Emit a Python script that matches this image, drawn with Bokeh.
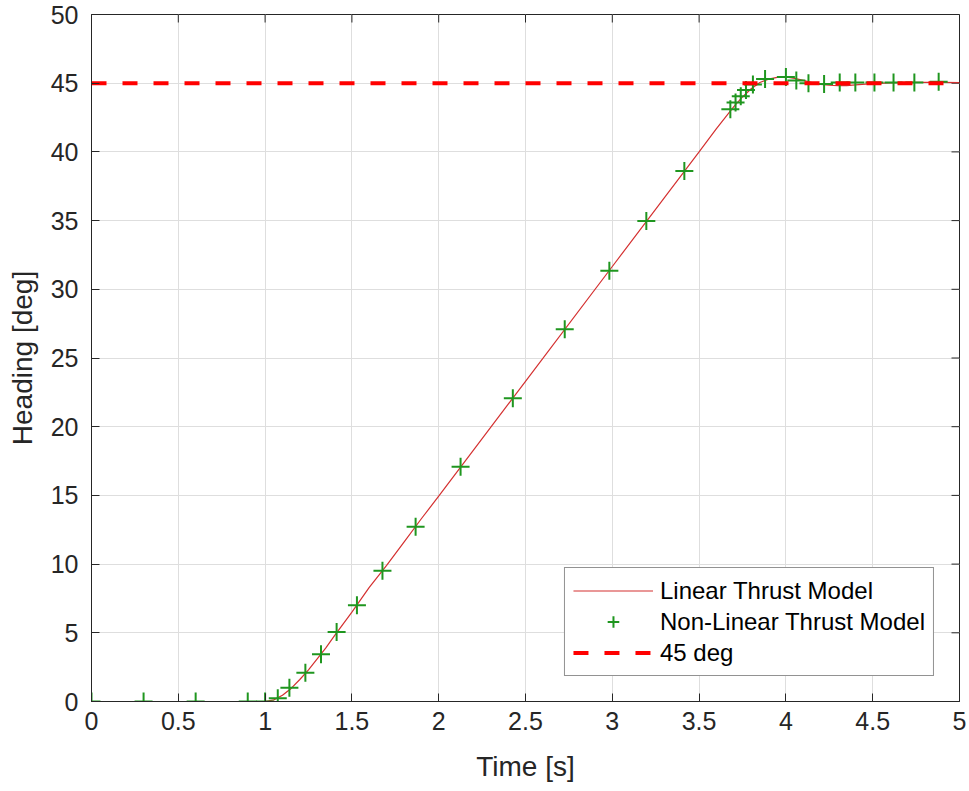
from bokeh.plotting import figure
from bokeh.models import Range1d, FixedTicker, NumeralTickFormatter, Legend, LegendItem
from bokeh.embed import file_html
from bokeh.resources import INLINE

# Linear Thrust Model (continuous line)
lin_t = [0.0, 1.0, 1.05, 1.1, 1.15, 1.2, 1.25, 1.3, 1.35, 1.4, 1.5, 1.6, 1.7, 1.8, 1.9,
         2.0, 2.5, 3.0, 3.5, 3.6, 3.7, 3.75, 3.8, 3.85, 3.9, 3.95, 4.0, 4.05, 4.1, 4.15,
         4.2, 4.25, 4.3, 4.35, 4.4, 4.5, 4.6, 4.7, 4.8, 4.9, 5.0]
lin_h = [0.0, 0.0, 0.12, 0.45, 0.95, 1.6, 2.3, 3.1, 3.9, 4.8, 6.5, 8.3, 9.9, 11.6, 13.3,
         14.94, 23.3, 31.66, 40.0, 41.7, 43.3, 44.0, 44.6, 45.05, 45.3, 45.43, 45.45, 45.35, 45.2, 45.05,
         44.92, 44.85, 44.82, 44.83, 44.88, 44.97, 45.03, 45.06, 45.07, 45.06, 45.04]

# Non-Linear Thrust Model (markers)
nl_t = [0.0, 0.30, 0.60, 0.90, 1.0, 1.073, 1.14, 1.232, 1.322, 1.412, 1.529, 1.676, 1.867,
        2.126, 2.427, 2.726, 2.983, 3.196, 3.415, 3.68, 3.71, 3.74, 3.77, 3.81, 3.88, 4.0,
        4.06, 4.13, 4.22, 4.31, 4.40, 4.51, 4.62, 4.74, 4.88]
nl_h = [0.0, 0.0, 0.0, 0.0, 0.0, 0.24, 1.0, 2.09, 3.43, 5.05, 7.0, 9.52, 12.72,
        17.09, 22.07, 27.09, 31.35, 34.97, 38.61, 43.1, 43.6, 44.05, 44.5, 44.9, 45.3, 45.45,
        45.2, 45.0, 44.95, 45.05, 45.05, 45.05, 45.05, 45.05, 45.1]

# 45 deg reference
ref_t = [0.0, 5.0]
ref_h = [45.0, 45.0]

x_ticks = [0, 0.5, 1, 1.5, 2, 2.5, 3, 3.5, 4, 4.5, 5]
y_ticks = [0, 5, 10, 15, 20, 25, 30, 35, 40, 45, 50]
x_min, x_max = 0, 5
y_min, y_max = 0, 50

FONT = "Liberation Sans"
AX = "#262626"

p = figure(width=969, height=791, output_backend="svg", toolbar_location=None,
           x_range=Range1d(x_min, x_max), y_range=Range1d(y_min, y_max),
           min_border_left=91, min_border_right=10, min_border_top=14, min_border_bottom=90,
           x_axis_label="Time [s]", y_axis_label="Heading [deg]")
p.outline_line_color = AX
p.outline_line_width = 1
p.background_fill_color = "white"
p.border_fill_color = "white"

for ax in (p.xaxis[0], p.yaxis[0]):
    ax.axis_line_color = AX
    ax.major_tick_line_color = AX
    ax.major_tick_in = 8
    ax.major_tick_out = 0
    ax.minor_tick_line_color = None
    ax.major_label_text_font = FONT
    ax.major_label_text_font_size = "25px"
    ax.major_label_text_color = AX
    ax.axis_label_text_font = FONT
    ax.axis_label_text_font_size = "28px"
    ax.axis_label_text_font_style = "normal"
    ax.axis_label_text_color = AX
    ax.formatter = NumeralTickFormatter(format="0.[0]")

p.xaxis[0].ticker = FixedTicker(ticks=x_ticks)
p.yaxis[0].ticker = FixedTicker(ticks=y_ticks)
p.xaxis[0].major_label_standoff = 10
p.xaxis[0].axis_label_standoff = 18
p.yaxis[0].major_label_standoff = 13
p.yaxis[0].axis_label_standoff = 10

p.xgrid.ticker = FixedTicker(ticks=x_ticks)
p.ygrid.ticker = FixedTicker(ticks=y_ticks)
p.xgrid.grid_line_color = "#dedede"
p.ygrid.grid_line_color = "#dedede"

# inward ticks on the top and right edges of the box
p.ray(x=x_ticks, y=[y_max] * len(x_ticks), length=8, length_units="screen",
      angle=-90, angle_units="deg", line_color=AX, line_width=1)
p.ray(x=[x_max] * len(y_ticks), y=y_ticks, length=8, length_units="screen",
      angle=180, angle_units="deg", line_color=AX, line_width=1)

r_lin = p.line(lin_t, lin_h, line_color="#d43030", line_width=1.2)
r_nl = p.scatter(nl_t, nl_h, marker="cross", size=18, line_color="#1f961f", line_width=2)
r_ref = p.line(ref_t, ref_h, line_color="#ff0000", line_width=4, line_dash="15 16")

legend = Legend(items=[LegendItem(label="Linear Thrust Model", renderers=[r_lin]),
                       LegendItem(label="Non-Linear Thrust Model", renderers=[r_nl]),
                       LegendItem(label="45 deg", renderers=[r_ref])],
                location="bottom_right", margin=25, padding=8, spacing=2,
                glyph_width=80, glyph_height=29, label_height=29, label_standoff=7,
                label_text_font=FONT, label_text_font_size="24px", label_text_color="black",
                border_line_color=AX, border_line_width=1, background_fill_color="white",
                background_fill_alpha=1.0)
p.add_layout(legend, "center")

open("out.html", "w").write(file_html(p, INLINE))
